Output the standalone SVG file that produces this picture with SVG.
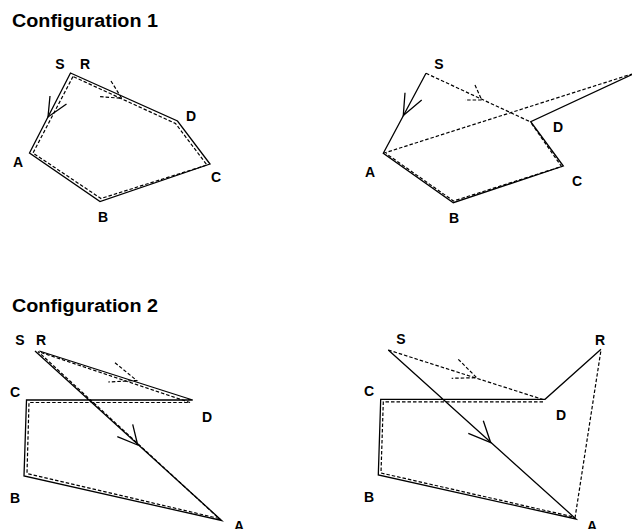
<svg xmlns="http://www.w3.org/2000/svg" width="632" height="529" viewBox="0 0 632 529">
<style>
.title{font-family:"Liberation Sans",Arial,sans-serif;font-weight:bold;font-size:18px;fill:#000}
.lbl{font-family:"Liberation Sans",Arial,sans-serif;font-weight:bold;font-size:14px;fill:#000;text-anchor:middle}
.s{fill:none;stroke:#000;stroke-width:1.3;stroke-linejoin:miter}
.d{fill:none;stroke:#000;stroke-width:1.2;stroke-dasharray:3.5 2}
</style>
<rect width="632" height="529" fill="#fff"/>
<text class="title" x="12" y="27" textLength="146" lengthAdjust="spacingAndGlyphs">Configuration 1</text>
<text class="title" x="12" y="312" textLength="146" lengthAdjust="spacingAndGlyphs">Configuration 2</text>

<g id="config1-left">
  <g id="c1l-nodes">
    <text id="c1l-S" class="lbl" x="60" y="69">S</text>
    <text id="c1l-R" class="lbl" x="85" y="69">R</text>
    <text id="c1l-A" class="lbl" x="18" y="167">A</text>
    <text id="c1l-B" class="lbl" x="103" y="222">B</text>
    <text id="c1l-C" class="lbl" x="216" y="182">C</text>
    <text id="c1l-D" class="lbl" x="191" y="121">D</text>
  </g>
  <g id="c1l-connectors">
    <polygon class="s" points="70.5,73 29.5,153 100,201.5 210,164 177.5,121"/>
    <polygon class="d" points="73,76.5 33,153 101,198.5 207,165 175.5,123.5"/>
    <polyline class="s" points="50,96 48,117 66.5,104"/>
    <polyline class="d" points="111,81 121.7,98.3 100,96.7"/>
  </g>
</g>

<g id="config1-right">
  <g id="c1r-nodes">
    <text id="c1r-S" class="lbl" x="439" y="69">S</text>
    <text id="c1r-A" class="lbl" x="370" y="177">A</text>
    <text id="c1r-B" class="lbl" x="454" y="223">B</text>
    <text id="c1r-C" class="lbl" x="577" y="186">C</text>
    <text id="c1r-D" class="lbl" x="558" y="132">D</text>
  </g>
  <g id="c1r-connectors">
    <polyline class="s" points="426,73.3 383.3,153.3 453.3,202.7 563.3,166 530.7,121.7 632,74.5"/>
    <polyline class="d" points="426,73.3 530.7,122"/>
    <polyline class="d" points="531.5,123.5 561.5,166.5 453.5,201 386,153.5"/>
    <polyline class="d" points="383.3,153.3 632,74"/>
    <polyline class="s" points="405,92.7 403.3,115.5 421.7,100"/>
    <polyline class="d" points="475,85 481.7,100 465,100"/>
  </g>
</g>

<g id="config2-left">
  <g id="c2l-nodes">
    <text id="c2l-S" class="lbl" x="20" y="345">S</text>
    <text id="c2l-R" class="lbl" x="41" y="345">R</text>
    <text id="c2l-C" class="lbl" x="15" y="397">C</text>
    <text id="c2l-D" class="lbl" x="207" y="422">D</text>
    <text id="c2l-B" class="lbl" x="15" y="503">B</text>
    <text id="c2l-A" class="lbl" x="239" y="531">A</text>
  </g>
  <g id="c2l-connectors">
    <polyline class="s" points="35,351 221.7,520.5 24,476 26.5,400 192.7,400 39.3,351"/>
    <polyline class="d" points="41,352.5 190,402.5 29,402.5 27,473.5 219,518.5 38,351.5"/>
    <polyline class="s" points="132.7,424.3 137.7,445 117.3,436.7"/>
    <polyline class="d" points="115,362.7 136.7,380.5 108.3,382"/>
  </g>
</g>

<g id="config2-right">
  <g id="c2r-nodes">
    <text id="c2r-S" class="lbl" x="401" y="344">S</text>
    <text id="c2r-R" class="lbl" x="600" y="345">R</text>
    <text id="c2r-C" class="lbl" x="369" y="396">C</text>
    <text id="c2r-D" class="lbl" x="561" y="420">D</text>
    <text id="c2r-B" class="lbl" x="369" y="502">B</text>
    <text id="c2r-A" class="lbl" x="592" y="531">A</text>
  </g>
  <g id="c2r-connectors">
    <polyline class="s" points="388.3,350 576,519 378.3,475 380.7,399.3 545,399.3 601,349.3"/>
    <polyline class="d" points="388.3,350 543,399.5"/>
    <polyline class="d" points="543,401.8 383.3,401.8 381,473 573,516.8"/>
    <polyline class="d" points="575,518 601,350"/>
    <polyline class="s" points="483.3,420.7 490.7,442.7 468.3,433.3"/>
    <polyline class="d" points="458.3,359.3 476.7,377.7 451.7,378.3"/>
  </g>
</g>
</svg>
